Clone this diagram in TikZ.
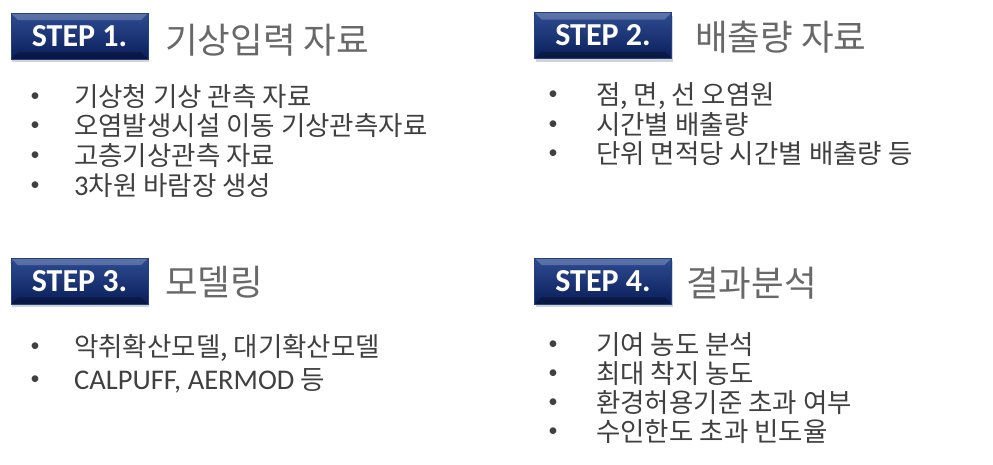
\documentclass[tikz,border=0pt]{standalone}
\usepackage{fontspec}
\usepackage{tikz}
\usetikzlibrary{shadows}
\setmainfont{Noto Sans CJK KR}
\newfontfamily\latinfont{Carlito}
\definecolor{steptop}{HTML}{2E4C92}
\definecolor{stepbot}{HTML}{0A1E5A}
\definecolor{stepedge}{HTML}{24407E}
\definecolor{titlegray}{HTML}{686868}
\definecolor{itemgray}{HTML}{404040}
\newcommand{\lat}[1]{{\latinfont\fontsize{28.5}{28.5}\selectfont #1}}

\tikzset{
  stepbox/.style={draw=stepedge, line width=0.6pt, top color=steptop, bottom color=stepbot,
    drop shadow={shadow xshift=1pt, shadow yshift=-3pt, opacity=0.35},
    minimum width=137pt, minimum height=46pt, inner sep=0pt, text=white,
    font=\latinfont\bfseries\fontsize{32}{32}\selectfont,
    path picture={
      \fill[white,opacity=0.22] (path picture bounding box.north west) -- (path picture bounding box.north east)
        -- ([xshift=-7pt,yshift=-7pt]path picture bounding box.north east) -- ([xshift=7pt,yshift=-7pt]path picture bounding box.north west) -- cycle;
      \fill[black,opacity=0.25] (path picture bounding box.south west) -- (path picture bounding box.south east)
        -- ([xshift=-7pt,yshift=7pt]path picture bounding box.south east) -- ([xshift=7pt,yshift=7pt]path picture bounding box.south west) -- cycle;}},
  steptitle/.style={anchor=west, inner sep=0pt, text=titlegray, font=\fontsize{35.5}{35.5}\selectfont},
  bulletdot/.style={inner sep=0pt, text=itemgray, font=\latinfont\fontsize{19}{19}\selectfont},
  itemtext/.style={anchor=base west, inner sep=0pt, text=itemgray, font=\fontsize{26.5}{26.5}\selectfont}
}

\begin{document}
\begin{tikzpicture}[x=1pt, y=-1pt]
  \useasboundingbox (0,0) rectangle (993,464);
  % Step boxes
  \node[stepbox] (Step1) at (79.5,36) {STEP 1.};
  \node[stepbox] (Step2) at (603,35.5) {STEP 2.};
  \node[stepbox] (Step3) at (79.5,281) {STEP 3.};
  \node[stepbox] (Step4) at (603,281) {STEP 4.};
  % Titles
  \node[steptitle] (Title1) at (165,40) {기상입력 자료};
  \node[steptitle] (Title2) at (695,37) {배출량 자료};
  \node[steptitle] (Title3) at (165,282) {모델링};
  \node[steptitle] (Title4) at (686,283) {결과분석};

  % Step 1 items
  \foreach \txt/\yb [count=\i] in {기상청 기상 관측 자료/106.5, 오염발생시설 이동 기상관측자료/135.5,
      고층기상관측 자료/165.5, {\lat{3}차원 바람장 생성}/195.5}{
    \node[bulletdot] (DotA\i) at (35,\yb-9) {\textbullet};
    \node[itemtext] (ItemA\i) at (74,\yb) {\txt};
  }
  % Step 2 items
  \foreach \txt/\yb [count=\i] in {{점, 면, 선 오염원}/104, 시간별 배출량/134, 단위 면적당 시간별 배출량 등/163}{
    \node[bulletdot] (DotB\i) at (553,\yb-9) {\textbullet};
    \node[itemtext] (ItemB\i) at (596,\yb) {\txt};
  }
  % Step 3 items
  \foreach \txt/\yb [count=\i] in {{악취확산모델, 대기확산모델}/356, {\lat{CALPUFF, AERMOD} 등}/389}{
    \node[bulletdot] (DotC\i) at (35,\yb-9) {\textbullet};
    \node[itemtext] (ItemC\i) at (74,\yb) {\txt};
  }
  % Step 4 items
  \foreach \txt/\yb [count=\i] in {기여 농도 분석/354, 최대 착지 농도/383, 환경허용기준 초과 여부/412, 수인한도 초과 빈도율/441}{
    \node[bulletdot] (DotD\i) at (553,\yb-9) {\textbullet};
    \node[itemtext] (ItemD\i) at (596,\yb) {\txt};
  }
\end{tikzpicture}
\end{document}
